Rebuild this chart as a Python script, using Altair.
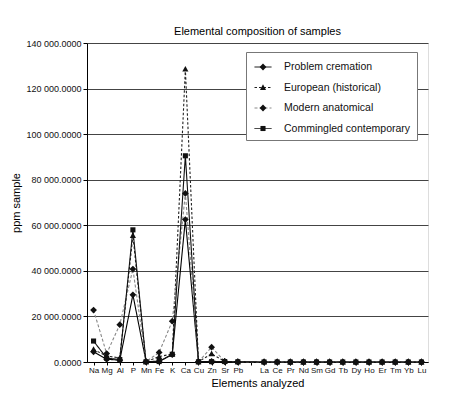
import altair as alt
import pandas as pd

# ---- data ----
elements = ["Na", "Mg", "Al", "P", "Mn", "Fe", "K", "Ca", "Cu", "Zn", "Sr", "Pb",
            "La", "Ce", "Pr", "Nd", "Sm", "Gd", "Tb", "Dy", "Ho", "Er", "Tm", "Yb", "Lu"]
axis_order = elements[:12] + [" "] + elements[12:]

series_names = ["Problem cremation", "European (historical)",
                "Modern anatomical", "Commingled contemporary"]

problem_cremation = [4500, 1200, 800, 29500, 200, 300, 3200, 62500, 100, 300, 150, 50,
                     3, 2, 1, 2, 1, 1, 0.5, 1, 0.5, 1, 0.5, 1, 0.5]
european_historical = [5500, 2600, 1800, 55500, 100, 2400, 3500, 128500, 100, 3600, 300, 60,
                       4, 3, 1, 2, 1, 1, 0.5, 1, 0.5, 1, 0.5, 1, 0.5]
modern_anatomical = [22800, 3700, 16400, 40800, 150, 4200, 17900, 74000, 150, 6500, 300, 100,
                     5, 4, 1, 3, 1, 1, 0.5, 1, 0.5, 1, 0.5, 1, 0.5]
commingled_contemporary = [9200, 1700, 1100, 58000, 100, 200, 3400, 90500, 100, 150, 200, 100,
                           6, 5, 1, 3, 1, 1, 0.5, 1, 0.5, 1, 0.5, 1, 0.5]

y_ticks = [0, 20000, 40000, 60000, 80000, 100000, 120000, 140000]

values_by_series = [problem_cremation, european_historical,
                    modern_anatomical, commingled_contemporary]

rows = []
for name, vals in zip(series_names, values_by_series):
    for i, (el, v) in enumerate(zip(elements, vals)):
        rows.append({"element": el, "ppm": v, "series": name, "series_m": name,
                     "element_idx": axis_order.index(el)})
df = pd.DataFrame(rows)

FONT = "Liberation Sans"

# marker shapes as small paths inside the unit square (mark size 289 -> 8.5 px per unit)
DIAMOND = "M0,-0.4L0.4,0L0,0.4L-0.4,0Z"
TRIANGLE = "M0,-0.38L0.36,0.28L-0.36,0.28Z"
SQUARE = "M-0.3,-0.3H0.3V0.3H-0.3Z"

x_enc = alt.X("element:N", scale=alt.Scale(domain=axis_order, paddingInner=0, paddingOuter=0),
              axis=alt.Axis(title="Elements analyzed", labelAngle=0, labelFontSize=8,
                            labelFont=FONT, labelColor="#111", labelPadding=1,
                            bandPosition=0, tickSize=3, tickColor="#000",
                            domainColor="#000", titleFont=FONT, titleFontSize=11,
                            titleFontWeight="normal", titleColor="#000", titlePadding=3,
                            labelOverlap=False))
y_enc = alt.Y("ppm:Q", scale=alt.Scale(domain=[0, 140000], nice=False),
              axis=alt.Axis(title="ppm sample", values=y_ticks,
                            labelExpr="replace(format(datum.value, ',.4f'), regexp(',', 'g'), ' ')",
                            labelFont=FONT, labelFontSize=9, labelColor="#111",
                            labelPadding=2, tickSize=4, tickColor="#000",
                            domainColor="#000", gridColor="#444", gridWidth=1,
                            titleFont=FONT, titleFontSize=11, titleFontWeight="normal",
                            titleColor="#000", titlePadding=4))

common_legend = dict(title=None, orient="none", legendX=159, legendY=9, padding=6,
                     symbolSize=289, symbolStrokeWidth=1, symbolOffset=2,
                     labelFont=FONT, labelFontSize=10.5, labelOffset=12, rowPadding=5.5)

legend_lines = alt.Legend(fillColor="white", strokeColor="#777", symbolType="stroke",
                          labelColor="#111", zindex=0, **common_legend)
legend_marks = alt.Legend(symbolFillColor="#111", symbolStrokeColor="#111",
                          labelOpacity=0, zindex=1, **common_legend)

lines = alt.Chart(df).mark_line(strokeWidth=1.1).encode(
    x=x_enc, y=y_enc,
    color=alt.Color("series:N", sort=series_names,
                    scale=alt.Scale(domain=series_names,
                                    range=["#000000", "#222222", "#888888", "#111111"]),
                    legend=legend_lines),
    strokeDash=alt.StrokeDash("series:N", sort=series_names,
                              scale=alt.Scale(domain=series_names,
                                              range=[[1, 0], [2.5, 2], [3, 2], [1, 0]]),
                              legend=legend_lines),
    order=alt.Order("element_idx:Q"),
)

points = alt.Chart(df).mark_point(filled=True, size=289, opacity=1, color="#111",
                                  strokeWidth=0).encode(
    x=x_enc, y=y_enc,
    shape=alt.Shape("series_m:N", sort=series_names,
                    scale=alt.Scale(range=[DIAMOND, TRIANGLE, DIAMOND, SQUARE]),
                    legend=legend_marks),
)

chart = alt.layer(lines, points).properties(
    width=341, height=319,
    autosize=alt.AutoSizeParams(type="none"),
    padding={"left": 79, "top": 35, "right": 15, "bottom": 30},
    title=alt.TitleParams("Elemental composition of samples", font=FONT, fontSize=11,
                          fontWeight="normal", color="#000", offset=2, anchor="middle"),
).configure_view(stroke="#000", strokeWidth=1).configure(background="white")

chart.save("out.html", embed_options={"renderer": "svg", "actions": False})
